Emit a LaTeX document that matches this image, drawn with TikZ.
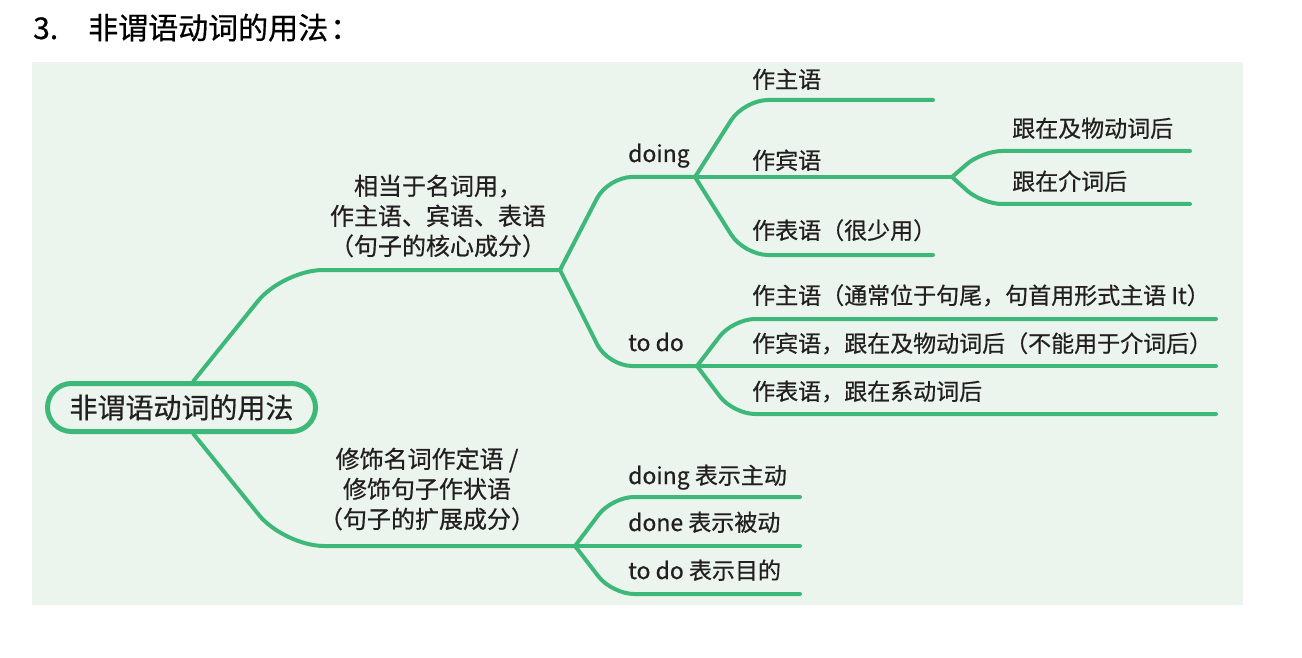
\documentclass[tikz,border=0pt]{standalone}
\usepackage{fontspec}
\setmainfont{Noto Sans CJK SC}[FakeBold=0.6]
\definecolor{bggreen}{HTML}{EBF5EE}
\definecolor{brgreen}{HTML}{3DB878}
\definecolor{txt}{HTML}{231F20}
\begin{document}
\begin{tikzpicture}[x=1pt,y=-1pt,
  br/.style={draw=brgreen, line width=4pt, line cap=round, line join=round},
  lbl/.style={anchor=west, inner sep=0pt, text=txt, font=\fontsize{23}{28}\selectfont, text height=19pt, text depth=3pt},
  mid/.style={align=center, text=txt, font=\fontsize{24}{30}\selectfont, inner sep=0pt},
  rootbox/.style={draw=brgreen, line width=5pt, fill=bggreen, rounded corners=24pt, minimum width=268pt, minimum height=48pt, inner sep=0pt, text=txt, font=\fontsize{28}{30}\selectfont},
]
\useasboundingbox (0,0) rectangle (1302,658);
\fill[white] (0,0) rectangle (1302,658);
\fill[bggreen] (32,62) rectangle (1243,605);

% title
\node[anchor=west, inner sep=0pt, text=black, font=\fontsize{30}{32}\selectfont, text height=26pt, text depth=4pt] (title) at (33,28) {3.\hspace{30pt}非谓语动词的用法\hspace{2pt}：};

% root
\node[rootbox] (r) at (181.5,407.5) {非谓语动词的用法};

% junctions
\coordinate (A) at (560,270);
\coordinate (B) at (695,177);
\coordinate (C) at (697,366);
\coordinate (D) at (952,177);
\coordinate (E) at (575,546);

% end points
\coordinate (b1) at (933,100);
\coordinate (b3) at (933,255);
\coordinate (d1) at (1190,151);
\coordinate (d2) at (1190,204);
\coordinate (c1) at (1216,319);
\coordinate (c2) at (1216,366);
\coordinate (c3) at (1216,414);
\coordinate (e1) at (800,497);
\coordinate (e2) at (800,546);
\coordinate (e3) at (800,594);

% main branches
\draw[br, rounded corners=40pt] ([xshift=12pt]r.north) -- (283,270) -- (A);
\draw[br, rounded corners=40pt] ([xshift=12pt]r.south) -- (284,546) -- (E);

% second level
\draw[br, rounded corners=24pt] (A) -- (608,177) -- (B);
\draw[br, rounded corners=24pt] (A) -- (608,366) -- (C);

% doing children
\draw[br, rounded corners=24pt] (B) -- (744,100) -- (b1);
\draw[br] (B) -- (D);
\draw[br, rounded corners=24pt] (B) -- (744,255) -- (b3);

% object children
\draw[br, rounded corners=20pt] (D) -- (982,151) -- (d1);
\draw[br, rounded corners=20pt] (D) -- (982,204) -- (d2);

% to do children
\draw[br, rounded corners=22pt] (C) -- (733,319) -- (c1);
\draw[br] (C) -- (c2);
\draw[br, rounded corners=22pt] (C) -- (733,414) -- (c3);

% attributive children
\draw[br, rounded corners=22pt] (E) -- (612,497) -- (e1);
\draw[br] (E) -- (e2);
\draw[br, rounded corners=22pt] (E) -- (612,594) -- (e3);

% labels
\node[mid] (m1) at (438,216) {相当于名词用，\\作主语、宾语、表语\\（句子的核心成分）};
\node[mid] (m2) at (427,489) {修饰名词作定语 /\\修饰句子作状语\\（句子的扩展成分）};

\node[lbl] (ldoing) at (628,154) {doing};
\node[lbl] (ltodo) at (628,343) {to do};

\node[lbl] (l1) at (752,80) {作主语};
\node[lbl] (l2) at (752,161) {作宾语};
\node[lbl] (l3) at (752,231) {作表语（很少用）};

\node[lbl] (l4) at (1012,129) {跟在及物动词后};
\node[lbl] (l5) at (1012,182) {跟在介词后};

\node[lbl] (l6) at (752,296) {作主语（通常位于句尾，句首用形式主语 It）};
\node[lbl] (l7) at (752,344) {作宾语，跟在及物动词后（不能用于介词后）};
\node[lbl] (l8) at (752,392) {作表语，跟在系动词后};

\node[lbl] (l9) at (628,476) {doing 表示主动};
\node[lbl] (l10) at (628,523) {done 表示被动};
\node[lbl] (l11) at (628,571) {to do 表示目的};
\end{tikzpicture}
\end{document}
